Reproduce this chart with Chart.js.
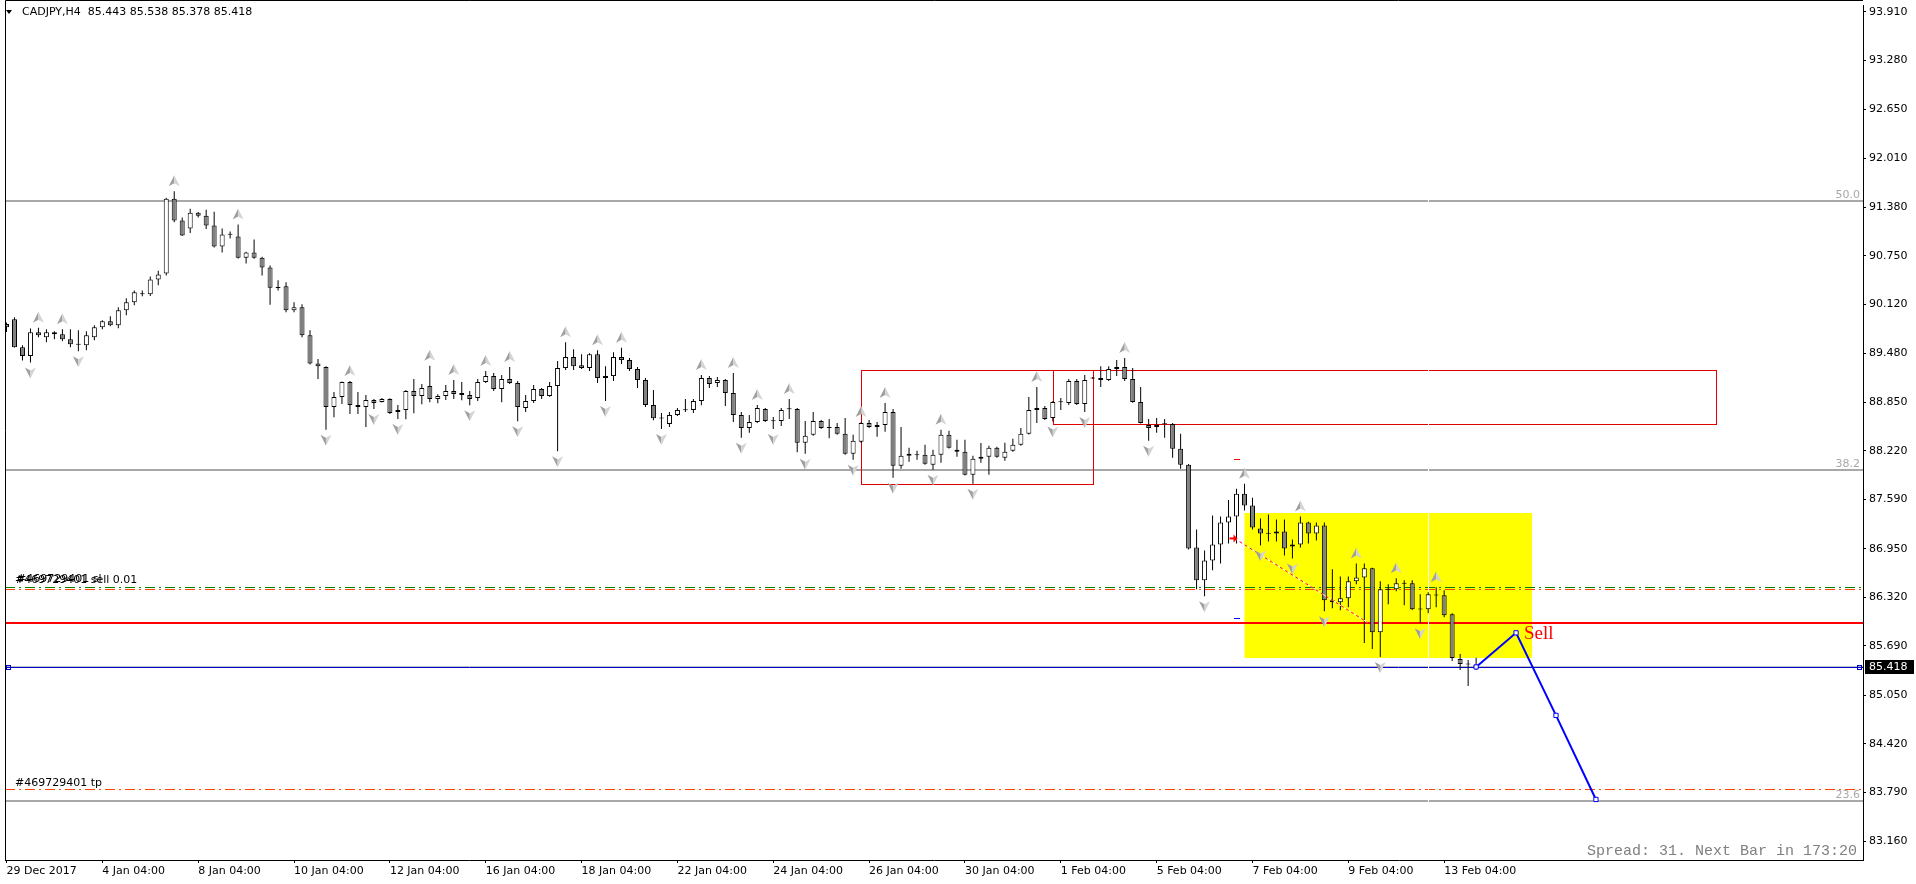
<!DOCTYPE html>
<html>
<head>
<meta charset="utf-8">
<script src="https://cdn.jsdelivr.net/npm/chart.js@4.4.1/dist/chart.umd.min.js"></script>
<style>
html, body { margin: 0; padding: 0; background: #fff; overflow: hidden; }
canvas { display: block; }
</style>
</head>
<body>
<canvas id="myChart" width="1916" height="884"></canvas>
<script>
// CADJPY H4 bars
var opens = [
	89.865,89.926,89.564,89.448,89.758,89.693,89.758,89.732,89.667,89.603,
	89.590,89.693,89.822,89.900,89.848,90.042,90.145,90.249,90.249,90.442,
	90.520,91.489,91.205,91.101,91.308,91.269,91.140,90.869,91.024,90.998,
	90.722,90.791,90.722,90.597,90.335,90.352,90.042,90.081,89.719,89.353,
	89.306,88.789,88.918,89.112,88.815,88.789,88.879,88.853,88.892,88.724,
	88.750,88.995,88.931,89.060,88.892,88.931,88.995,88.970,88.944,88.905,
	89.112,89.189,89.021,89.150,89.099,88.776,88.866,89.021,88.931,89.060,
	89.293,89.435,89.331,89.293,89.473,89.163,89.189,89.435,89.396,89.280,
	89.137,88.815,88.642,88.569,88.685,88.750,88.750,88.866,89.163,89.099,
	89.137,88.970,88.685,88.517,88.595,88.763,88.608,88.608,88.763,88.763,
	88.324,88.427,88.608,88.522,88.530,88.440,88.181,88.337,88.582,88.530,
	88.556,88.724,88.026,88.181,88.168,88.168,88.039,88.168,88.427,88.233,
	88.207,87.910,88.117,88.143,88.259,88.130,88.220,88.298,88.440,88.750,
	88.776,88.647,88.853,88.840,89.125,88.827,89.163,89.138,89.138,89.280,
	89.306,89.150,88.853,88.556,88.530,88.569,88.569,88.246,88.039,86.967,
	86.541,86.799,87.006,87.290,87.368,87.665,87.510,87.213,87.148,87.148,
	87.174,86.980,87.006,87.290,87.148,87.251,86.282,86.256,86.308,86.528,
	86.579,86.696,85.869,86.424,86.424,86.502,86.502,86.166,86.166,86.347,
	86.347,86.101,85.520,85.455,85.443
];
var highs = [
	89.883,89.952,89.590,89.805,89.814,89.796,89.771,89.796,89.796,89.783,
	89.771,89.848,89.913,89.964,90.081,90.197,90.300,90.300,90.481,90.554,
	91.502,91.584,91.244,91.360,91.317,91.347,91.321,91.101,91.063,91.153,
	90.800,90.959,90.735,90.623,90.430,90.404,90.145,90.119,89.783,89.409,
	89.318,88.982,89.120,89.125,88.982,88.944,88.892,88.905,88.900,88.815,
	89.008,89.150,89.086,89.323,88.952,89.073,89.137,89.112,88.995,89.150,
	89.254,89.228,89.202,89.306,89.125,88.944,89.073,89.034,89.112,89.383,
	89.629,89.538,89.473,89.486,89.525,89.318,89.499,89.555,89.422,89.306,
	89.163,89.008,88.711,88.724,88.776,88.892,88.892,89.202,89.189,89.176,
	89.150,89.228,88.724,88.685,88.815,88.776,88.660,88.776,88.892,88.776,
	88.608,88.724,88.621,88.634,88.582,88.647,88.427,88.595,88.621,88.595,
	88.840,88.763,88.530,88.259,88.220,88.298,88.233,88.492,88.479,88.362,
	88.362,88.156,88.320,88.285,88.272,88.324,88.375,88.517,88.918,89.047,
	88.802,88.866,88.905,89.150,89.150,89.202,89.176,89.318,89.318,89.396,
	89.422,89.293,89.047,88.634,88.647,88.634,88.582,88.440,88.048,87.200,
	86.928,87.380,87.368,87.583,87.729,87.794,87.613,87.342,87.393,87.329,
	87.329,87.070,87.368,87.299,87.290,87.290,86.683,86.592,86.592,86.760,
	86.760,86.704,86.528,86.489,86.567,86.541,86.541,86.360,86.386,86.450,
	86.411,86.114,85.585,85.507,85.538
];
var lows = [
	89.762,89.560,89.392,89.366,89.693,89.629,89.667,89.641,89.564,89.512,
	89.525,89.654,89.796,89.835,89.809,89.977,90.107,90.223,90.227,90.365,
	90.494,91.183,91.005,91.045,91.244,91.097,90.856,90.791,90.972,90.713,
	90.649,90.709,90.494,90.115,90.300,90.016,90.016,89.693,89.340,89.150,
	88.492,88.655,88.827,88.698,88.698,88.530,88.763,88.845,88.698,88.634,
	88.629,88.707,88.823,88.849,88.836,88.879,88.892,88.875,88.810,88.866,
	89.099,88.995,88.849,89.086,88.604,88.724,88.840,88.892,88.922,88.216,
	89.267,89.267,89.280,89.254,89.099,88.866,89.125,89.344,89.254,89.034,
	88.789,88.617,88.504,88.530,88.672,88.724,88.711,88.810,89.034,89.047,
	88.802,88.595,88.388,88.453,88.582,88.595,88.504,88.543,88.634,88.203,
	88.181,88.414,88.504,88.384,88.427,88.168,88.104,88.320,88.517,88.401,
	88.466,87.871,87.988,88.078,88.104,88.039,87.975,88.065,88.250,88.143,
	87.901,87.794,88.065,87.910,88.130,88.091,88.207,88.285,88.431,88.582,
	88.621,88.599,88.750,88.815,88.815,88.724,89.150,89.047,89.125,89.189,
	89.125,88.844,88.573,88.350,88.453,88.388,88.130,87.988,86.941,86.424,
	86.334,86.670,86.760,87.019,87.019,87.445,87.200,86.993,87.045,87.045,
	86.864,86.825,86.967,87.019,87.057,86.140,86.179,86.153,86.192,86.489,
	85.727,85.649,85.546,86.231,86.399,86.218,86.157,85.985,86.114,86.192,
	86.063,85.494,85.378,85.171,85.378
];
var closes = [
	89.822,89.564,89.448,89.758,89.719,89.758,89.732,89.667,89.603,89.594,
	89.719,89.822,89.900,89.848,90.042,90.145,90.275,90.253,90.442,90.507,
	91.489,91.205,91.011,91.308,91.269,91.140,90.869,91.024,91.020,90.722,
	90.791,90.722,90.597,90.335,90.330,90.042,90.081,89.719,89.353,89.318,
	88.789,88.918,89.112,88.815,88.789,88.879,88.840,88.892,88.711,88.750,
	88.995,88.931,89.034,88.892,88.931,88.995,88.957,88.944,88.892,89.112,
	89.189,89.021,89.150,89.099,88.789,88.866,89.021,88.931,89.060,89.293,
	89.435,89.318,89.293,89.473,89.163,89.189,89.435,89.396,89.280,89.137,
	88.815,88.642,88.638,88.685,88.750,88.746,88.866,89.163,89.086,89.137,
	88.970,88.685,88.517,88.595,88.776,88.608,88.604,88.750,88.759,88.324,
	88.414,88.608,88.517,88.517,88.440,88.181,88.350,88.582,88.530,88.556,
	88.724,88.026,88.156,88.156,88.164,88.052,88.168,88.427,88.259,88.207,
	87.910,88.117,88.143,88.259,88.143,88.207,88.298,88.440,88.750,88.776,
	88.634,88.853,88.849,89.125,88.827,89.138,89.159,89.163,89.280,89.306,
	89.150,88.853,88.582,88.517,88.556,88.565,88.246,88.039,86.954,86.541,
	86.799,87.006,87.290,87.368,87.665,87.510,87.225,87.148,87.144,87.174,
	86.954,87.006,87.290,87.148,87.251,86.282,86.256,86.308,86.528,86.579,
	86.696,85.869,86.424,86.420,86.502,86.497,86.166,86.162,86.360,86.343,
	86.088,85.533,85.455,85.451,85.418
];

var timeLabels = ['29 Dec 2017', '4 Jan 04:00', '8 Jan 04:00', '10 Jan 04:00', '12 Jan 04:00', '16 Jan 04:00',
	'18 Jan 04:00', '22 Jan 04:00', '24 Jan 04:00', '26 Jan 04:00', '30 Jan 04:00', '1 Feb 04:00',
	'5 Feb 04:00', '7 Feb 04:00', '9 Feb 04:00', '13 Feb 04:00'];
var labelBars = [0, 12, 24, 36, 48, 60, 72, 84, 96, 108, 120, 132, 144, 156, 168, 180];
var priceTicks = [93.910, 93.280, 92.650, 92.010, 91.380, 90.750, 90.120, 89.480, 88.850,
	88.220, 87.590, 86.950, 86.320, 85.690, 85.050, 84.420, 83.790, 83.160];

var upFractals = [4, 7, 21, 29, 43, 53, 56, 60, 63, 70, 74, 77, 87, 91, 94, 98, 107, 110, 117, 129, 140, 155, 162, 169, 174, 179];
var downFractals = [3, 9, 40, 46, 49, 58, 64, 69, 75, 82, 92, 96, 100, 106, 111, 116, 121, 131, 135, 143, 150, 157, 161, 165, 172, 177];

var projBars = [184, 189, 194, 199];
var projPrices = [85.418, 85.86, 84.79, 83.70];

var fibLevels = [91.455, 87.970, 83.680];
var fibNames = ['50.0', '38.2', '23.6'];
var bidPrice = 85.418;
var redLevel = 85.993;
var openLevel = 86.455;
var slLevel = 86.429;
var tpLevel = 83.832;

var boxA = [107, 136, 89.271, 87.785];
var boxB = [131, 214, 89.271, 88.573];
var yellowBox = [155, 191, 87.411, 85.537];
var separatorBar = 178;
var trendLine = [153.75, 87.084, 170.4, 85.995];
var markBar = 154, markHigh = 88.117, markLow = 86.05;
var sellBar = 190, sellPrice = 85.85;

var candleIdx = opens.map(function (v, i) { return i; });

function xy(scales, bar, price) {
	return [scales.x.getPixelForValue(bar), scales.y.getPixelForValue(price)];
}

function hline(ctx, area, y, color, width, dash) {
	ctx.save();
	ctx.strokeStyle = color;
	ctx.lineWidth = width;
	ctx.setLineDash(dash || []);
	var yy = width % 2 ? Math.round(y) + 0.5 : Math.round(y);
	ctx.beginPath();
	ctx.moveTo(area.left, yy);
	ctx.lineTo(area.right, yy);
	ctx.stroke();
	ctx.restore();
}

function fractal(ctx, x, y, up) {
	var d = up ? 1 : -1;
	ctx.beginPath();
	ctx.moveTo(x, y - 6 * d);
	ctx.lineTo(x, y + 2 * d);
	ctx.lineTo(x - 5.5, y + 5 * d);
	ctx.closePath();
	ctx.fillStyle = '#a0a0a0';
	ctx.fill();
	ctx.beginPath();
	ctx.moveTo(x, y - 6 * d);
	ctx.lineTo(x, y + 2 * d);
	ctx.lineTo(x + 5.5, y + 5 * d);
	ctx.closePath();
	ctx.fillStyle = '#d4d4d4';
	ctx.fill();
}

var mtObjects = {
	id: 'mtObjects',
	beforeDatasetsDraw: function (chart) {
		var ctx = chart.ctx, a = chart.chartArea, s = chart.scales;
		ctx.save();
		ctx.beginPath();
		ctx.rect(a.left, a.top, a.right - a.left, a.bottom - a.top);
		ctx.clip();

		// yellow rectangle
		var p1 = xy(s, yellowBox[0], yellowBox[2]), p2 = xy(s, yellowBox[1], yellowBox[3]);
		ctx.fillStyle = '#ffff00';
		ctx.fillRect(p1[0], Math.round(p1[1]), p2[0] - p1[0], Math.round(p2[1]) - Math.round(p1[1]));

		// fibo levels
		fibLevels.forEach(function (lv) {
			hline(ctx, a, s.y.getPixelForValue(lv), '#a8a8a8', 2);
		});

		// order lines
		hline(ctx, a, s.y.getPixelForValue(openLevel), '#008000', 1, [10, 4, 2, 4]);
		hline(ctx, a, s.y.getPixelForValue(slLevel), '#ff4500', 1, [10, 4, 2, 4]);
		hline(ctx, a, s.y.getPixelForValue(tpLevel), '#ff4500', 1, [10, 4, 2, 4]);
		hline(ctx, a, s.y.getPixelForValue(redLevel), '#ff0000', 2);
		hline(ctx, a, s.y.getPixelForValue(bidPrice) - 1, '#c0c0c0', 1);
		hline(ctx, a, s.y.getPixelForValue(bidPrice), '#0000c8', 1);

		// rectangles
		ctx.strokeStyle = '#e00000';
		ctx.lineWidth = 1;
		[boxA, boxB].forEach(function (b) {
			var q1 = xy(s, b[0], b[2]), q2 = xy(s, b[1], b[3]);
			var x1 = Math.round(q1[0]) + 0.5, y1 = Math.round(q1[1]) + 0.5;
			var x2 = Math.round(q2[0]) + 0.5, y2 = Math.round(q2[1]) + 0.5;
			ctx.strokeRect(x1, y1, x2 - x1, y2 - y1);
		});

		// white separator
		var sx = Math.round(s.x.getPixelForValue(separatorBar)) + 0.5;
		ctx.strokeStyle = '#ffffff';
		ctx.beginPath();
		ctx.moveTo(sx, a.top);
		ctx.lineTo(sx, a.bottom);
		ctx.stroke();
		ctx.restore();
	},
	afterDatasetsDraw: function (chart) {
		var ctx = chart.ctx, a = chart.chartArea, s = chart.scales;
		ctx.save();
		ctx.beginPath();
		ctx.rect(a.left, a.top, a.right - a.left, a.bottom - a.top);
		ctx.clip();

		// trend line, red/white dashes
		var t1 = xy(s, trendLine[0], trendLine[1]), t2 = xy(s, trendLine[2], trendLine[3]);
		ctx.lineWidth = 1;
		ctx.strokeStyle = '#ffffff';
		ctx.beginPath(); ctx.moveTo(t1[0], t1[1]); ctx.lineTo(t2[0], t2[1]); ctx.stroke();
		ctx.strokeStyle = '#ff0000';
		ctx.setLineDash([3, 3]);
		ctx.beginPath(); ctx.moveTo(t1[0], t1[1]); ctx.lineTo(t2[0], t2[1]); ctx.stroke();
		ctx.setLineDash([]);
		// small red arrow at its start
		ctx.fillStyle = '#ff0000';
		ctx.fillRect(t1[0] - 5, t1[1] - 1, 5, 2);
		ctx.beginPath();
		ctx.moveTo(t1[0] + 3, t1[1]);
		ctx.lineTo(t1[0] - 1, t1[1] - 4);
		ctx.lineTo(t1[0] - 1, t1[1] + 4);
		ctx.closePath();
		ctx.fill();

		// marks
		var m1 = xy(s, markBar, markHigh), m2 = xy(s, markBar, markLow);
		ctx.fillStyle = '#ff0000';
		ctx.fillRect(Math.round(m1[0]) - 3, Math.round(m1[1]), 6, 1);
		ctx.fillStyle = '#0000ff';
		ctx.fillRect(Math.round(m2[0]) - 3, Math.round(m2[1]), 6, 1);

		// fractals
		upFractals.forEach(function (i) {
			var p = xy(s, i, highs[i]);
			fractal(ctx, p[0], p[1] - 10, true);
		});
		downFractals.forEach(function (i) {
			var p = xy(s, i, lows[i]);
			fractal(ctx, p[0], p[1] + 10, false);
		});

		// bid line end squares
		var by = Math.round(s.y.getPixelForValue(bidPrice)) + 0.5;
		ctx.strokeStyle = '#0000c8';
		ctx.strokeRect(a.left + 1.5, by - 2, 4, 4);
		ctx.strokeRect(a.right - 5.5, by - 2, 4, 4);

		// fibo labels
		ctx.font = '11px "DejaVu Sans"';
		ctx.fillStyle = '#a8a8a8';
		ctx.textAlign = 'right';
		ctx.textBaseline = 'alphabetic';
		fibLevels.forEach(function (lv, k) {
			ctx.fillText(fibNames[k], a.right - 3, s.y.getPixelForValue(lv) - 3);
		});

		// order labels
		ctx.textAlign = 'left';
		ctx.fillStyle = '#000000';
		var oy = s.y.getPixelForValue(openLevel) - 4;
		ctx.fillText('#469729401 sell 0.01', a.left + 10, oy);
		ctx.fillText('#469729401 sl', a.left + 12, oy - 1);
		ctx.fillText('#469729401 tp', a.left + 10, s.y.getPixelForValue(tpLevel) - 3);

		// Sell
		var sp = xy(s, sellBar, sellPrice);
		ctx.font = '19px "Liberation Serif"';
		ctx.fillStyle = '#ff0000';
		ctx.textBaseline = 'middle';
		ctx.fillText('Sell', sp[0], sp[1]);
		ctx.restore();
	},
	afterDraw: function (chart) {
		var ctx = chart.ctx, a = chart.chartArea, s = chart.scales;
		ctx.save();
		// frame left/top
		ctx.strokeStyle = '#000000';
		ctx.lineWidth = 1;
		ctx.beginPath();
		ctx.moveTo(a.left + 0.5, a.bottom);
		ctx.lineTo(a.left + 0.5, 0.5);
		ctx.lineTo(a.right, 0.5);
		ctx.stroke();

		// symbol line
		ctx.fillStyle = '#000000';
		ctx.beginPath();
		ctx.moveTo(6, 10); ctx.lineTo(12, 10); ctx.lineTo(9, 14);
		ctx.closePath();
		ctx.fill();
		ctx.font = '11px "DejaVu Sans"';
		ctx.textBaseline = 'middle';
		ctx.textAlign = 'left';
		ctx.fillText('CADJPY,H4  85.443 85.538 85.378 85.418', 22, 12);

		// spread
		ctx.font = '15px "Liberation Mono"';
		ctx.fillStyle = '#808080';
		ctx.textAlign = 'right';
		ctx.textBaseline = 'alphabetic';
		ctx.fillText('Spread: 31. Next Bar in 173:20', a.right - 6, a.bottom - 5);

		// price tag
		var py = Math.round(s.y.getPixelForValue(bidPrice));
		ctx.fillStyle = '#000000';
		ctx.fillRect(a.right + 2, py - 7, 49, 14);
		ctx.fillStyle = '#ffffff';
		ctx.font = '11px "DejaVu Sans"';
		ctx.textAlign = 'left';
		ctx.textBaseline = 'middle';
		ctx.fillText(bidPrice.toFixed(3), a.right + 6, py);
		ctx.restore();
	}
};

Chart.defaults.font.family = '"DejaVu Sans"';
Chart.defaults.font.size = 11;
Chart.defaults.color = '#000000';

var ctx = document.getElementById('myChart');
var myChart = new Chart(ctx, {
	type: 'bar',
	data: {
		datasets: [{
			type: 'line',
			label: 'projection',
			data: projBars.map(function (b, k) { return { x: b, y: projPrices[k] }; }),
			borderColor: '#0000ff',
			borderWidth: 2,
			pointStyle: 'rect',
			pointRadius: 3,
			pointBackgroundColor: '#ffffff',
			pointBorderColor: '#0000ff',
			pointBorderWidth: 1,
			order: 0
		}, {
			label: 'body',
			data: candleIdx.map(function (i) { return { x: i, y: [opens[i], closes[i]] }; }),
			backgroundColor: candleIdx.map(function (i) { return closes[i] > opens[i] ? '#ffffff' : '#808080'; }),
			borderColor: '#000000',
			borderWidth: 1,
			borderSkipped: false,
			barThickness: 5,
			minBarLength: 1,
			inflateAmount: 0,
			grouped: false,
			order: 1
		}, {
			label: 'wick',
			data: candleIdx.map(function (i) { return { x: i, y: [lows[i], highs[i]] }; }),
			backgroundColor: '#000000',
			borderWidth: 0,
			barThickness: 1,
			inflateAmount: 0,
			grouped: false,
			order: 2
		}]
	},
	options: {
		responsive: false,
		animation: false,
		devicePixelRatio: 1,
		layout: { padding: { left: 2, top: 2, right: 0, bottom: 0 } },
		plugins: { legend: { display: false }, tooltip: { enabled: false } },
		scales: {
			x: {
				type: 'linear',
				offset: false,
				min: -0.1875,
				max: 232.4375,
				afterBuildTicks: function (scale) {
					scale.ticks = labelBars.map(function (b) { return { value: b }; });
				},
				afterFit: function (scale) {
					scale.height = 24;
					scale.paddingLeft = 0;
					scale.paddingRight = 0;
				},
				ticks: {
					autoSkip: false,
					maxRotation: 0,
					align: 'start',
					padding: 2,
					color: '#000000',
					callback: function (v) {
						var k = labelBars.indexOf(v);
						return k < 0 ? '' : timeLabels[k];
					}
				},
				grid: { offset: false, drawOnChartArea: false, drawTicks: true, tickLength: 3, color: '#000000' },
				border: { display: true, color: '#000000' }
			},
			y: {
				position: 'right',
				min: 82.915,
				max: 94.0,
				afterBuildTicks: function (scale) {
					scale.ticks = priceTicks.map(function (p) { return { value: p }; });
				},
				afterFit: function (scale) {
					scale.width = 53;
					scale.paddingTop = 0;
					scale.paddingBottom = 0;
				},
				ticks: {
					padding: 3,
					color: '#000000',
					callback: function (v) { return Number(v).toFixed(3); }
				},
				grid: { drawOnChartArea: false, drawTicks: true, tickLength: 3, color: '#000000' },
				border: { display: true, color: '#000000' }
			}
		}
	},
	plugins: [mtObjects]
});
</script>
</body>
</html>
